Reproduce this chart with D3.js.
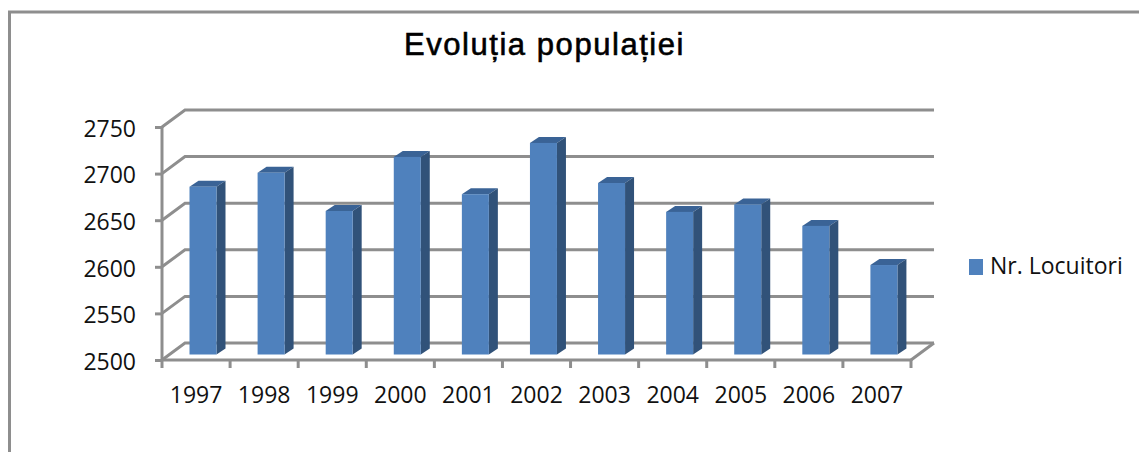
<!DOCTYPE html>
<html>
<head>
<meta charset="utf-8">
<script src="https://cdn.jsdelivr.net/npm/d3@7"></script>
<style>
    html, body { margin: 0; padding: 0; background: #fff; }
    svg { display: block; }
    .axis text { font-family: "Open Sans", sans-serif; font-size: 23px; fill: #111; }
    .axis line, .axis path, .wall { stroke: #8e8e8e; stroke-width: 3; fill: none; }
    .title { font-family: "Liberation Sans", sans-serif; font-size: 31px; letter-spacing: 1.55px; fill: #000; text-anchor: middle; stroke: #000; stroke-width: .6; }
    .legend { font-family: "Open Sans", sans-serif; font-size: 23px; fill: #111; }
</style>
</head>
<body>
<script>
const years = ["1997", "1998", "1999", "2000", "2001", "2002", "2003", "2004", "2005", "2006", "2007"];
const population = [2680, 2695, 2654, 2712, 2672, 2727, 2684, 2653, 2661, 2638, 2596];
const yTicks = [2500, 2550, 2600, 2650, 2700, 2750];
const seriesName = "Nr. Locuitori";
const chartTitle = "Evoluția populației";

const dim = { width: 1139, height: 452 };
const plot = { left: 162, right: 911, top: 127, bottom: 360 };
const wall = { dx: 23, dy: -17 };
const bar = { width: 27, dx: 9, dy: -6, lift: 5.5 };

const svg = d3.select("body").append("svg")
    .attr("width", dim.width)
    .attr("height", dim.height);

// frame
svg.append("path")
    .attr("d", `M9.5,${dim.height} V12 H${dim.width}`)
    .attr("fill", "none")
    .attr("stroke", "#8e8e8e")
    .attr("stroke-width", 3);

svg.append("text")
    .attr("class", "title")
    .attr("x", 544.5)
    .attr("y", 55)
    .text(chartTitle);

const y = d3.scaleLinear()
    .domain([2500, 2750])
    .range([plot.bottom, plot.top]);

const xStep = d3.scaleBand().domain(years).range([plot.left, plot.right]);

// back wall, side wall and floor ////////////////////

svg.append("g")
    .selectAll("path")
    .data(yTicks)
    .join("path")
    .attr("class", "wall")
    .attr("d", d => `M${plot.left},${y(d)} L${plot.left + wall.dx},${y(d) + wall.dy} H${plot.right + wall.dx}`);

svg.append("path")
    .attr("class", "wall")
    .attr("d", `M${plot.right},${plot.bottom} L${plot.right + wall.dx},${plot.bottom + wall.dy}`);

// axes

const yAxis = d3.axisLeft(y)
    .tickValues(yTicks)
    .tickFormat(d3.format("d"))
    .tickSize(7)
    .tickPadding(19);

svg.append("g")
    .attr("class", "axis y")
    .attr("transform", `translate(${plot.left}, 0)`)
    .call(yAxis)
    .call(g => g.select(".domain").attr("d", `M0,${plot.top} V${plot.bottom}`))
    .call(g => g.selectAll("text").attr("dy", "0.4em"));

const xAxis = d3.axisBottom(xStep)
    .tickSize(0)
    .tickPadding(27);

const xAxisG = svg.append("g")
    .attr("class", "axis x")
    .attr("transform", `translate(0, ${plot.bottom})`)
    .call(xAxis)
    .call(g => g.select(".domain").attr("d", `M${plot.left},0 H${plot.right}`));

xAxisG.selectAll(".edge")
    .data(d3.range(years.length + 1))
    .join("line")
    .attr("class", "edge")
    .attr("x1", i => plot.left + i * xStep.step())
    .attr("x2", i => plot.left + i * xStep.step())
    .attr("y1", 0)
    .attr("y2", 8);

// bars ////////////////////

const bars = svg.append("g")
    .selectAll("g")
    .data(years.map((year, i) => ({ year, value: population[i] })))
    .join("g");

const barLeft = d => xStep(d.year) + 27.5;
const barTop = d => y(d.value) - bar.lift;
const barBottom = plot.bottom - bar.lift;

bars.append("path")
    .attr("fill", "#3a6396")
    .attr("d", d => `M${barLeft(d)},${barTop(d)} l${bar.dx},${bar.dy} h${bar.width} l${-bar.dx},${-bar.dy} Z`);

bars.append("path")
    .attr("fill", "#315279")
    .attr("d", d => `M${barLeft(d) + bar.width},${barTop(d)} l${bar.dx},${bar.dy} V${barBottom + bar.dy} l${-bar.dx},${-bar.dy} Z`);

bars.append("rect")
    .attr("fill", "#4f81bd")
    .attr("x", barLeft)
    .attr("y", barTop)
    .attr("width", bar.width)
    .attr("height", d => barBottom - barTop(d));

// legend ////////////////////

const legend = svg.append("g");

legend.append("rect")
    .attr("x", 969)
    .attr("y", 259)
    .attr("width", 14)
    .attr("height", 16)
    .attr("fill", "#4f81bd");

legend.append("text")
    .attr("class", "legend")
    .attr("x", 990)
    .attr("y", 274)
    .text(seriesName);
</script>
</body>
</html>
